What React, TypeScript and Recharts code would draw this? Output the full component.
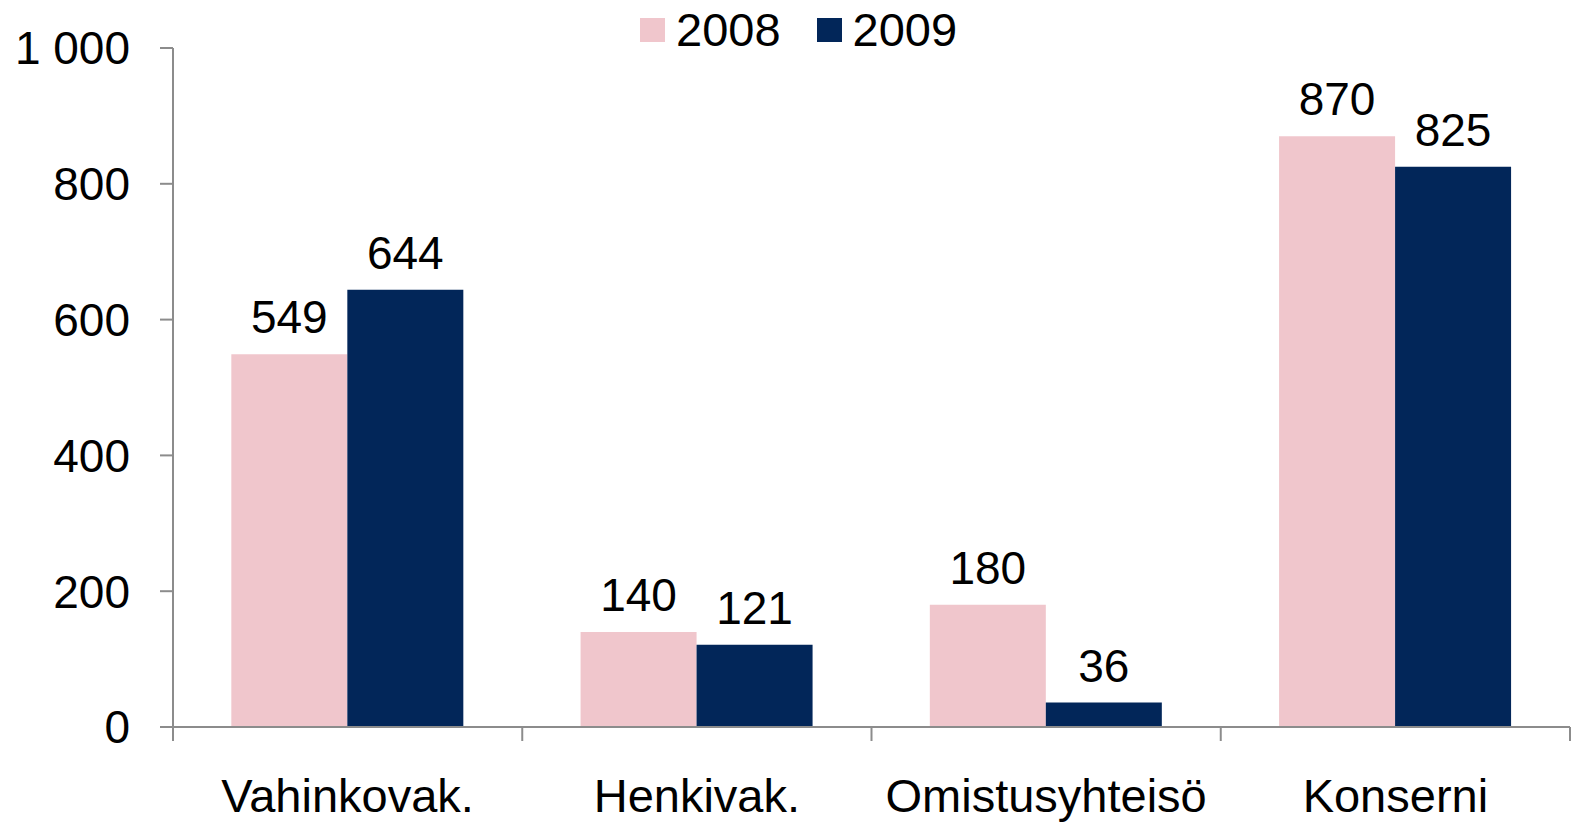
import { Bar, BarChart, LabelList, Legend, XAxis, YAxis } from "recharts";

const categories = ["Vahinkovak.", "Henkivak.", "Omistusyhteisö", "Konserni"];
const values2008 = [549, 140, 180, 870];
const values2009 = [644, 121, 36, 825];
const yTicks = [0, 200, 400, 600, 800, 1000];

const PINK = "#f0c6cc";
const NAVY = "#022659";
const AXIS = "#8c8c8c";
const FONT = "'Liberation Sans', Arial, sans-serif";

const data = categories.map((name, i) => ({
  name,
  y2008: values2008[i],
  y2009: values2009[i],
}));

const CHART_W = 1571;
const CHART_H = 822;
const LEFT = 173;
const RIGHT = 1;
const BAND = (CHART_W - LEFT - RIGHT) / categories.length;
const LEGEND_H = 44;

const fmt = (v: number) => String(v).replace(/\B(?=(\d{3})+(?!\d))/g, " ");

function CategoryTick(props: any) {
  const { x, y, payload, index } = props;
  const last = index === categories.length - 1;
  return (
    <g>
      <line x1={x - BAND / 2} x2={x - BAND / 2} y1={y} y2={y + 14} stroke={AXIS} strokeWidth={2} />
      {last && <line x1={x + BAND / 2} x2={x + BAND / 2} y1={y} y2={y + 14} stroke={AXIS} strokeWidth={2} />}
      <text x={x} y={y + 85} textAnchor="middle" fontSize={47} fontFamily={FONT} fill="#000">
        {payload.value}
      </text>
    </g>
  );
}

function LegendContent() {
  const items = [
    { label: "2008", color: PINK },
    { label: "2009", color: NAVY },
  ];
  return (
    <div style={{ display: "flex", alignItems: "center", fontFamily: FONT, fontSize: 47, height: LEGEND_H }}>
      {items.map((it) => (
        <div key={it.label} style={{ display: "flex", alignItems: "center", marginRight: 36 }}>
          <span style={{ width: 25, height: 24, background: it.color, marginRight: 11 }} />
          <span style={{ lineHeight: LEGEND_H + "px" }}>{it.label}</span>
        </div>
      ))}
    </div>
  );
}

export default function App() {
  return (
    <div style={{ position: "absolute", left: 0, top: 0, width: CHART_W, height: CHART_H, background: "#fff" }}>
      <BarChart
        width={CHART_W}
        height={CHART_H}
        data={data}
        margin={{ top: 48 - LEGEND_H, right: RIGHT, bottom: 0, left: 0 }}
        barCategoryGap="16.7%"
        barGap={0}
      >
        <Legend
          verticalAlign="top"
          align="left"
          content={<LegendContent />}
          wrapperStyle={{ left: 640, top: 8, width: "auto", height: LEGEND_H }}
        />
        <XAxis
          dataKey="name"
          height={95}
          axisLine={{ stroke: AXIS, strokeWidth: 2 }}
          tickLine={false}
          tickSize={0}
          tickMargin={0}
          interval={0}
          tick={<CategoryTick />}
        />
        <YAxis
          width={LEFT}
          domain={[0, 1000]}
          ticks={yTicks}
          tickFormatter={fmt}
          axisLine={{ stroke: AXIS, strokeWidth: 2 }}
          tickLine={{ stroke: AXIS, strokeWidth: 2 }}
          tickSize={13}
          tickMargin={30}
          tick={{ fontSize: 46, fontFamily: FONT, fill: "#000" }}
        />
        <Bar dataKey="y2008" name="2008" fill={PINK} isAnimationActive={false}>
          <LabelList dataKey="y2008" position="top" offset={21} fontSize={46} fontFamily={FONT} fill="#000" />
        </Bar>
        <Bar dataKey="y2009" name="2009" fill={NAVY} isAnimationActive={false}>
          <LabelList dataKey="y2009" position="top" offset={21} fontSize={46} fontFamily={FONT} fill="#000" />
        </Bar>
      </BarChart>
    </div>
  );
}
